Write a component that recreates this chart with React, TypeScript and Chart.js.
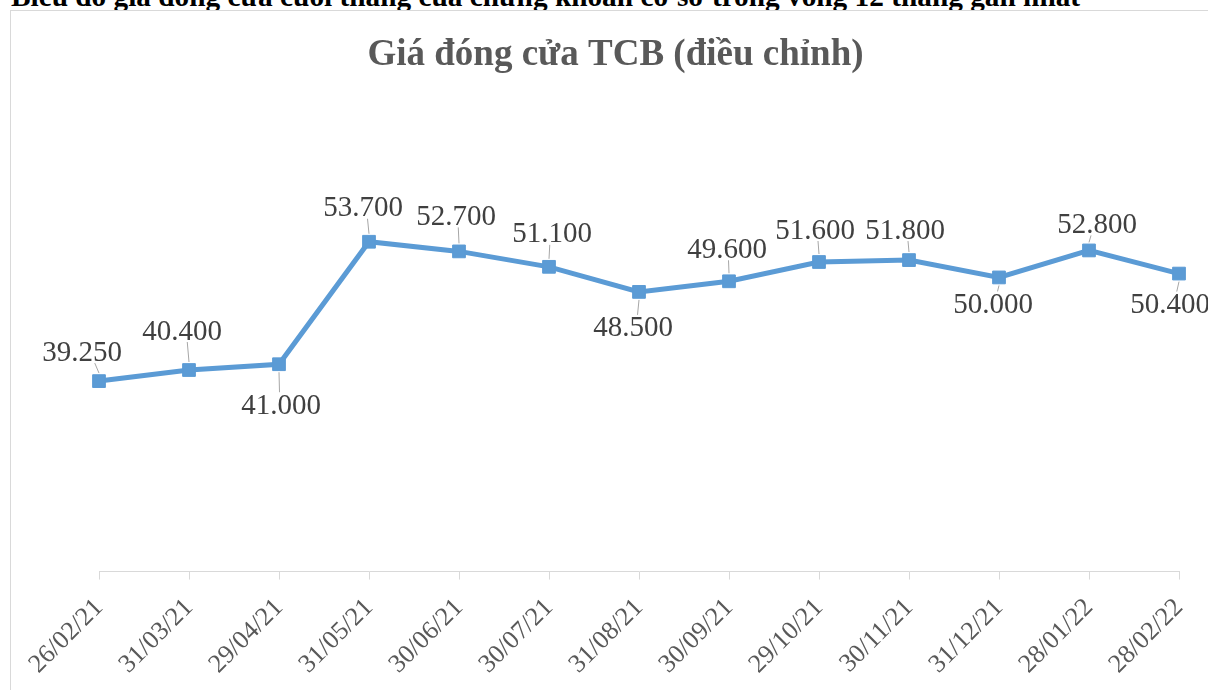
import { useEffect, useRef } from "react";
import { Chart, registerables } from "chart.js";

Chart.register(...registerables);

const heading =
  "Biểu đồ giá đóng cửa cuối tháng của chứng khoán cơ sở trong vòng 12 tháng gần nhất";
const chartTitle = "Giá đóng cửa TCB (điều chỉnh)";

const dates = [
  "26/02/21",
  "31/03/21",
  "29/04/21",
  "31/05/21",
  "30/06/21",
  "30/07/21",
  "31/08/21",
  "30/09/21",
  "29/10/21",
  "30/11/21",
  "31/12/21",
  "28/01/22",
  "28/02/22",
];

// Adjusted closing price (thousand VND)
const prices = [39.25, 40.4, 41.0, 53.7, 52.7, 51.1, 48.5, 49.6, 51.6, 51.8, 50.0, 52.8, 50.4];

const fmt = (v: number) => {
  const s = String(Math.round(v * 1000));
  return s.slice(0, -3) + "." + s.slice(-3);
};

const SERIF = '"Liberation Serif", "Times New Roman", serif';

const labelPlugin = {
  id: "excelLabels",
  afterDatasetsDraw(chart: any, _args: any, opts: any) {
    const ctx = chart.ctx;
    const meta = chart.getDatasetMeta(0);
    const offsets: number[][] = opts.offsets;
    const size: number = opts.size;
    ctx.save();
    meta.data.forEach((el: any, i: number) => {
      const v = chart.data.datasets[0].data[i] as number;
      const [dx, dy] = offsets[i] || [0, -30];
      const cx = el.x + dx;
      const cy = el.y + dy;
      // leader line
      const sign = dy < 0 ? -1 : 1;
      const y1 = el.y + sign * 8;
      const y2 = cy - sign * 12;
      if ((y2 - y1) * sign > 3) {
        ctx.strokeStyle = "#a6a6a6";
        ctx.lineWidth = 1;
        ctx.beginPath();
        ctx.moveTo(el.x, y1);
        ctx.lineTo(el.x + dx * 0.25, y2);
        ctx.stroke();
      }
      ctx.font = `${size}px ${SERIF}`;
      ctx.fillStyle = "#404040";
      ctx.textAlign = "center";
      ctx.textBaseline = "alphabetic";
      ctx.fillText(fmt(v), cx, cy + size * 0.33);
    });
    ctx.restore();
  },
  afterDraw(chart: any, _args: any, opts: any) {
    const ctx = chart.ctx;
    ctx.save();
    ctx.font = `bold ${opts.titleSize}px ${SERIF}`;
    ctx.fillStyle = "#595959";
    ctx.textAlign = "center";
    ctx.textBaseline = "alphabetic";
    ctx.fillText(chartTitle, opts.titleX, opts.titleY);
    ctx.restore();
  },
};

export default function App() {
  const ref = useRef<HTMLCanvasElement | null>(null);

  useEffect(() => {
    if (!ref.current) return;
    const chart = new Chart(ref.current, {
      type: "line",
      data: {
        labels: dates,
        datasets: [
          {
            data: prices,
            borderColor: "#5b9bd5",
            borderWidth: 5,
            pointStyle: "rect",
            pointRadius: 9,
            pointBackgroundColor: "#5b9bd5",
            pointBorderColor: "#5b9bd5",
            pointBorderWidth: 1,
            tension: 0,
            clip: false as any,
          },
        ],
      },
      plugins: [labelPlugin as any],
      options: {
        animation: false,
        responsive: false,
        layout: { padding: { left: 88, right: 40, top: 170, bottom: 0 } },
        plugins: {
          legend: { display: false },
          tooltip: { enabled: false },
          title: { display: false },
          excelLabels: {
            size: 29,
            titleSize: 37,
            titleX: 604.5,
            titleY: 54,
            offsets: [
              [-17, -30],
              [-7, -40],
              [2, 40],
              [-6, -35],
              [-3, -36],
              [3, -34],
              [-6, 35],
              [-2, -33],
              [-4, -33],
              [-4, -31],
              [-6, 26],
              [8, -27],
              [-9, 30],
            ],
          },
        } as any,
        scales: {
          x: {
            type: "category",
            offset: false,
            grid: {
              display: true,
              drawOnChartArea: false,
              drawTicks: true,
              tickLength: 8,
              color: "#d9d9d9",
            },
            border: { display: true, color: "#d9d9d9", width: 1 },
            ticks: {
              autoSkip: false,
              maxRotation: 45,
              minRotation: 45,
              padding: 13,
              color: "#595959",
              font: { family: SERIF, size: 26 },
            },
          },
          y: {
            display: false,
            min: 19.5,
            max: 60,
          },
        },
      },
    });
    return () => chart.destroy();
  }, []);

  return (
    <div
      style={{
        position: "absolute",
        left: 0,
        top: 0,
        width: 1208,
        height: 690,
        overflow: "hidden",
        background: "#fff",
      }}
    >
      <div
        style={{
          position: "absolute",
          left: 11,
          top: -18,
          fontFamily: SERIF,
          fontWeight: "bold",
          fontSize: 29.3,
          lineHeight: "29px",
          color: "#000",
          whiteSpace: "nowrap",
        }}
      >
        {heading}
      </div>
      <div
        style={{
          position: "absolute",
          left: 10,
          top: 10,
          width: 1240,
          height: 700,
          borderLeft: "1px solid #d9d9d9",
          borderTop: "1px solid #d9d9d9",
          background: "#fff",
        }}
      >
        <canvas ref={ref} width={1208} height={682} style={{ display: "block" }} />
      </div>
    </div>
  );
}
